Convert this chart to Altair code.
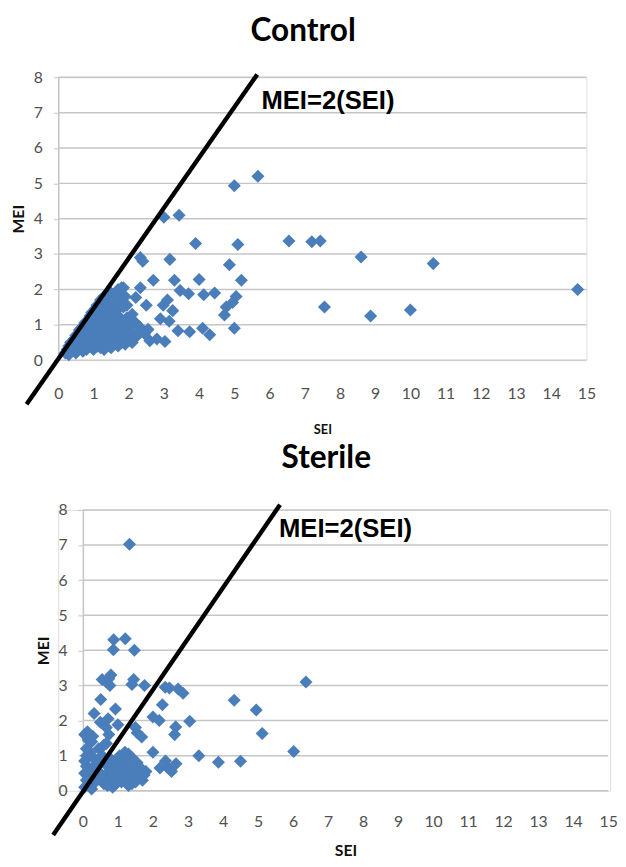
import altair as alt
import pandas as pd

# ---------------- Control ----------------
control_sei = [
    5.67, 5.0, 3.0, 3.43, 3.9, 5.1, 6.55, 7.2, 7.44, 2.33, 2.4, 3.17, 4.86, 2.7, 3.3, 4.0, 5.2,
    3.46, 3.7, 4.13, 4.44, 5.05, 4.95, 4.77, 4.72, 5.0, 4.1, 4.3, 3.73, 3.4, 2.98, 3.1, 3.25,
    2.9, 3.15, 3.03, 2.8, 2.6, 2.55, 2.2, 2.0, 2.33, 2.2, 2.5, 2.1, 1.95, 1.8,
    8.6, 10.65, 7.56, 8.87, 10.0, 14.75,
    # dense cluster
    0.2, 0.3, 0.4, 0.5, 0.6, 0.7, 0.8, 0.9, 1.0, 1.1, 1.2, 1.3, 1.4, 1.5, 1.6, 1.7, 1.8, 1.9, 2.0, 2.1,
    0.35, 0.45, 0.55, 0.65, 0.75, 0.85, 0.95, 1.05, 1.15, 1.25, 1.35, 1.45, 1.55, 1.65, 1.75, 1.85, 1.95, 2.05, 2.2,
    0.6, 0.7, 0.8, 0.9, 1.0, 1.1, 1.2, 1.3, 1.4, 1.5, 1.6, 1.7, 1.8, 1.9, 2.0,
    0.8, 0.9, 1.0, 1.1, 1.2, 1.3, 1.4, 1.5, 1.6, 1.7, 1.8,
    1.05, 1.15, 1.25, 1.35, 1.45, 1.55, 1.65, 1.75, 1.85,
    1.3, 1.4, 1.5, 1.6, 1.7, 1.75, 1.85,
    0.3, 0.5, 0.65, 0.75, 0.95, 1.1,
    2.3, 2.45, 2.2,
    0.25, 0.45, 0.55, 0.7, 0.9, 1.1, 1.3, 1.5, 1.7, 1.9, 1.0, 1.25, 1.45, 1.65, 1.95, 2.05, 1.2, 1.9,
]
control_mei = [
    5.2, 4.93, 4.04, 4.1, 3.3, 3.27, 3.37, 3.35, 3.37, 2.9, 2.8, 2.85, 2.7, 2.26, 2.26, 2.28, 2.26,
    1.97, 1.88, 1.85, 1.9, 1.8, 1.63, 1.5, 1.28, 0.9, 0.9, 0.72, 0.8, 0.83, 1.55, 1.7, 1.4,
    1.17, 1.1, 0.53, 0.6, 0.55, 0.87, 0.72, 0.6, 2.05, 1.77, 1.55, 1.3, 1.55, 2.05,
    2.92, 2.73, 1.5, 1.25, 1.42, 2.0,
    0.2, 0.15, 0.3, 0.2, 0.35, 0.25, 0.3, 0.4, 0.3, 0.4, 0.35, 0.3, 0.4, 0.35, 0.45, 0.4, 0.5, 0.45, 0.55, 0.5,
    0.5, 0.6, 0.5, 0.7, 0.55, 0.65, 0.55, 0.7, 0.6, 0.7, 0.6, 0.7, 0.6, 0.7, 0.65, 0.75, 0.7, 0.8, 0.65,
    0.85, 0.95, 0.8, 0.95, 0.85, 1.0, 0.85, 0.95, 0.85, 1.0, 0.9, 1.0, 0.85, 0.95, 0.9,
    1.1, 1.25, 1.15, 1.3, 1.2, 1.1, 1.3, 1.2, 1.1, 1.25, 1.15,
    1.45, 1.55, 1.4, 1.6, 1.45, 1.55, 1.4, 1.6, 1.5,
    1.8, 1.75, 1.9, 1.8, 2.0, 1.85, 2.05,
    0.4, 0.7, 0.9, 1.05, 1.35, 1.55,
    0.95, 0.75, 1.05,
    0.3, 0.4, 0.35, 0.45, 0.6, 0.5, 0.5, 0.5, 0.55, 0.6, 1.0, 1.0, 1.05, 1.3, 1.2, 1.1, 1.7, 1.8,
]
control_line_sei = [-0.9, 5.65]
control_line_mei = [-1.25, 8.08]
control_note_sei = [5.77]
control_note_mei = [7.33]

# ---------------- Sterile ----------------
sterile_sei = [
    1.33, 0.88, 1.21, 0.87, 1.47, 0.55, 0.74, 0.8, 0.67, 0.77, 1.45, 1.4, 1.76, 0.51, 0.32, 0.93,
    0.13, 0.28, 0.25, 0.5, 0.72, 0.67, 1.0, 0.74, 0.67, 1.5, 1.68, 1.55, 2.0, 2.0, 2.18, 2.27,
    2.35, 2.47, 2.72, 2.86, 3.05, 2.65, 2.62, 3.31, 3.87, 4.5, 4.32, 4.95, 5.12, 6.02, 6.37,
    2.2, 2.4, 2.5, 2.66, 2.53, 2.36,
    # dense cluster
    0.05, 0.1, 0.05, 0.1, 0.05, 0.15, 0.2, 0.25, 0.3, 0.35, 0.4, 0.45, 0.5, 0.55, 0.6, 0.65, 0.7,
    0.75, 0.8, 0.85, 0.9, 0.95, 1.0, 1.05, 1.1, 1.15, 1.2, 1.25, 1.3, 1.35, 1.4, 1.45, 1.5, 1.55,
    1.6, 1.65, 1.7, 1.75, 1.8, 0.1, 0.15, 0.05, 0.2, 0.1, 1.3, 1.2, 0.45, 0.6, 1.35, 1.5, 0.25, 0.95,
    0.3, 0.5, 0.7, 0.9, 1.1, 1.3, 1.5, 1.7, 0.4, 0.6, 0.2, 0.15, 1.0, 1.2, 1.4, 0.85,
]
sterile_mei = [
    7.02, 4.3, 4.33, 4.02, 4.0, 3.17, 3.19, 3.3, 3.1, 3.0, 3.17, 3.03, 3.0, 2.6, 2.2, 2.33,
    1.68, 1.55, 1.4, 1.95, 2.05, 1.8, 1.88, 1.6, 1.35, 1.8, 1.53, 1.65, 1.1, 2.1, 2.0, 2.45,
    2.95, 2.93, 2.9, 2.78, 1.98, 1.82, 1.6, 1.0, 0.81, 0.84, 2.58, 2.3, 1.63, 1.12, 3.1,
    0.65, 0.68, 0.6, 0.77, 0.55, 0.85,
    0.1, 0.3, 0.5, 0.7, 0.85, 0.95, 0.15, 0.45, 0.7, 0.9, 0.3, 0.55, 0.8, 1.0, 0.2, 0.45, 0.7,
    0.95, 0.3, 0.1, 0.55, 0.8, 0.45, 1.0, 0.25, 0.6, 0.85, 0.4, 0.15, 0.65, 0.95, 0.35, 0.55, 0.8,
    0.4, 0.5, 0.6, 0.45, 0.55, 1.2, 1.45, 1.6, 1.1, 1.0, 1.05, 1.1, 1.2, 1.3, 0.3, 0.25, 0.05, 0.2,
    0.2, 0.4, 0.15, 0.35, 0.75, 0.55, 0.7, 0.3, 0.75, 0.9, 0.6, 0.3, 0.65, 0.45, 0.2, 0.75,
]
sterile_line_sei = [-0.85, 5.63]
sterile_line_mei = [-1.26, 8.15]
sterile_note_sei = [5.6]
sterile_note_mei = [7.44]

x_ticks = list(range(0, 16))
y_ticks = list(range(0, 9))

BLUE = "#4a7ebb"
GRID = "#c6c6c6"
LABEL_FONT = "Lato"
TITLE_FONT = "Lato"


def panel(title, sei, mei, lsei, lmei, nsei, nmei, width, plot_left, plot_w, height,
          sei_title_size, label_pad, sei_pad, title_offset):
    pts = pd.DataFrame({"SEI": sei, "MEI": mei})
    line = pd.DataFrame({"SEI": lsei, "MEI": lmei})
    note = pd.DataFrame({"SEI": nsei, "MEI": nmei, "t": ["MEI=2(SEI)"]})
    grid = pd.DataFrame({"g": y_ticks})

    xscale = alt.Scale(domain=[0, 15], nice=False, zero=False,
                       range=[plot_left, plot_left + plot_w])
    yscale = alt.Scale(domain=[0, 8], nice=False, zero=False)

    xaxis = alt.Axis(
        values=x_ticks, grid=False, ticks=False, domain=False,
        labelFont=LABEL_FONT, labelFontSize=16, labelColor="#505050", labelPadding=label_pad,
        labelOverlap=False, labelFlush=False,
        title="SEI", titleFont=TITLE_FONT, titleFontSize=sei_title_size, titleFontWeight="bold",
        titleColor="#111111", titlePadding=sei_pad, titleX=plot_left + plot_w / 2,
    )
    yaxis = alt.Axis(
        values=y_ticks, grid=False, ticks=True, tickSize=5, offset=-plot_left,
        tickColor=GRID, domain=True, domainColor=GRID, domainWidth=1.5,
        labelFont=LABEL_FONT, labelFontSize=16, labelColor="#505050", labelPadding=11,
        labelOverlap=False, labelFlush=False,
        title="MEI", titleFont=TITLE_FONT, titleFontSize=16, titleFontWeight="bold",
        titleColor="#111111", titlePadding=7,
    )
    X = alt.X("SEI:Q", scale=xscale, axis=xaxis)
    Y = alt.Y("MEI:Q", scale=yscale, axis=yaxis)

    grid_layer = alt.Chart(grid).mark_rule(color=GRID, strokeWidth=1.5).encode(
        y=alt.Y("g:Q", scale=yscale, axis=yaxis),
        x=alt.value(plot_left), x2=alt.value(plot_left + plot_w),
    )
    pts_layer = alt.Chart(pts).mark_point(
        shape="diamond", filled=True, size=175, color=BLUE, opacity=1
    ).encode(x=X, y=Y)
    line_layer = alt.Chart(line).mark_line(color="black", strokeWidth=4.5, clip=False).encode(
        x=X, y=Y
    )
    note_layer = alt.Chart(note).mark_text(
        align="left", baseline="middle", font="Liberation Sans", fontSize=26,
        fontWeight="bold", color="black",
    ).encode(x=X, y=Y, text="t:N")
    return alt.layer(grid_layer, pts_layer, line_layer, note_layer).properties(
        width=width, height=height,
        title=alt.TitleParams(
            title, font=TITLE_FONT, fontSize=32, fontWeight="bold", color="black",
            anchor="middle", frame="bounds", offset=title_offset,
        ),
    )


top = panel("Control", control_sei, control_mei, control_line_sei, control_line_mei,
            control_note_sei, control_note_mei, 536, 0, 536, 287, 13, 26, 22, 18)
bottom = panel("Sterile", sterile_sei, sterile_mei, sterile_line_sei, sterile_line_mei,
               sterile_note_sei, sterile_note_mei, 560, 25, 533, 285, 16, 23, 14, 21)

chart = alt.vconcat(top, bottom, spacing=5).configure_view(stroke=None).configure(
    padding={"left": 2, "top": 0, "right": 0, "bottom": 0}
)

chart.save("out.html", embed_options={"renderer": "svg", "actions": False})
